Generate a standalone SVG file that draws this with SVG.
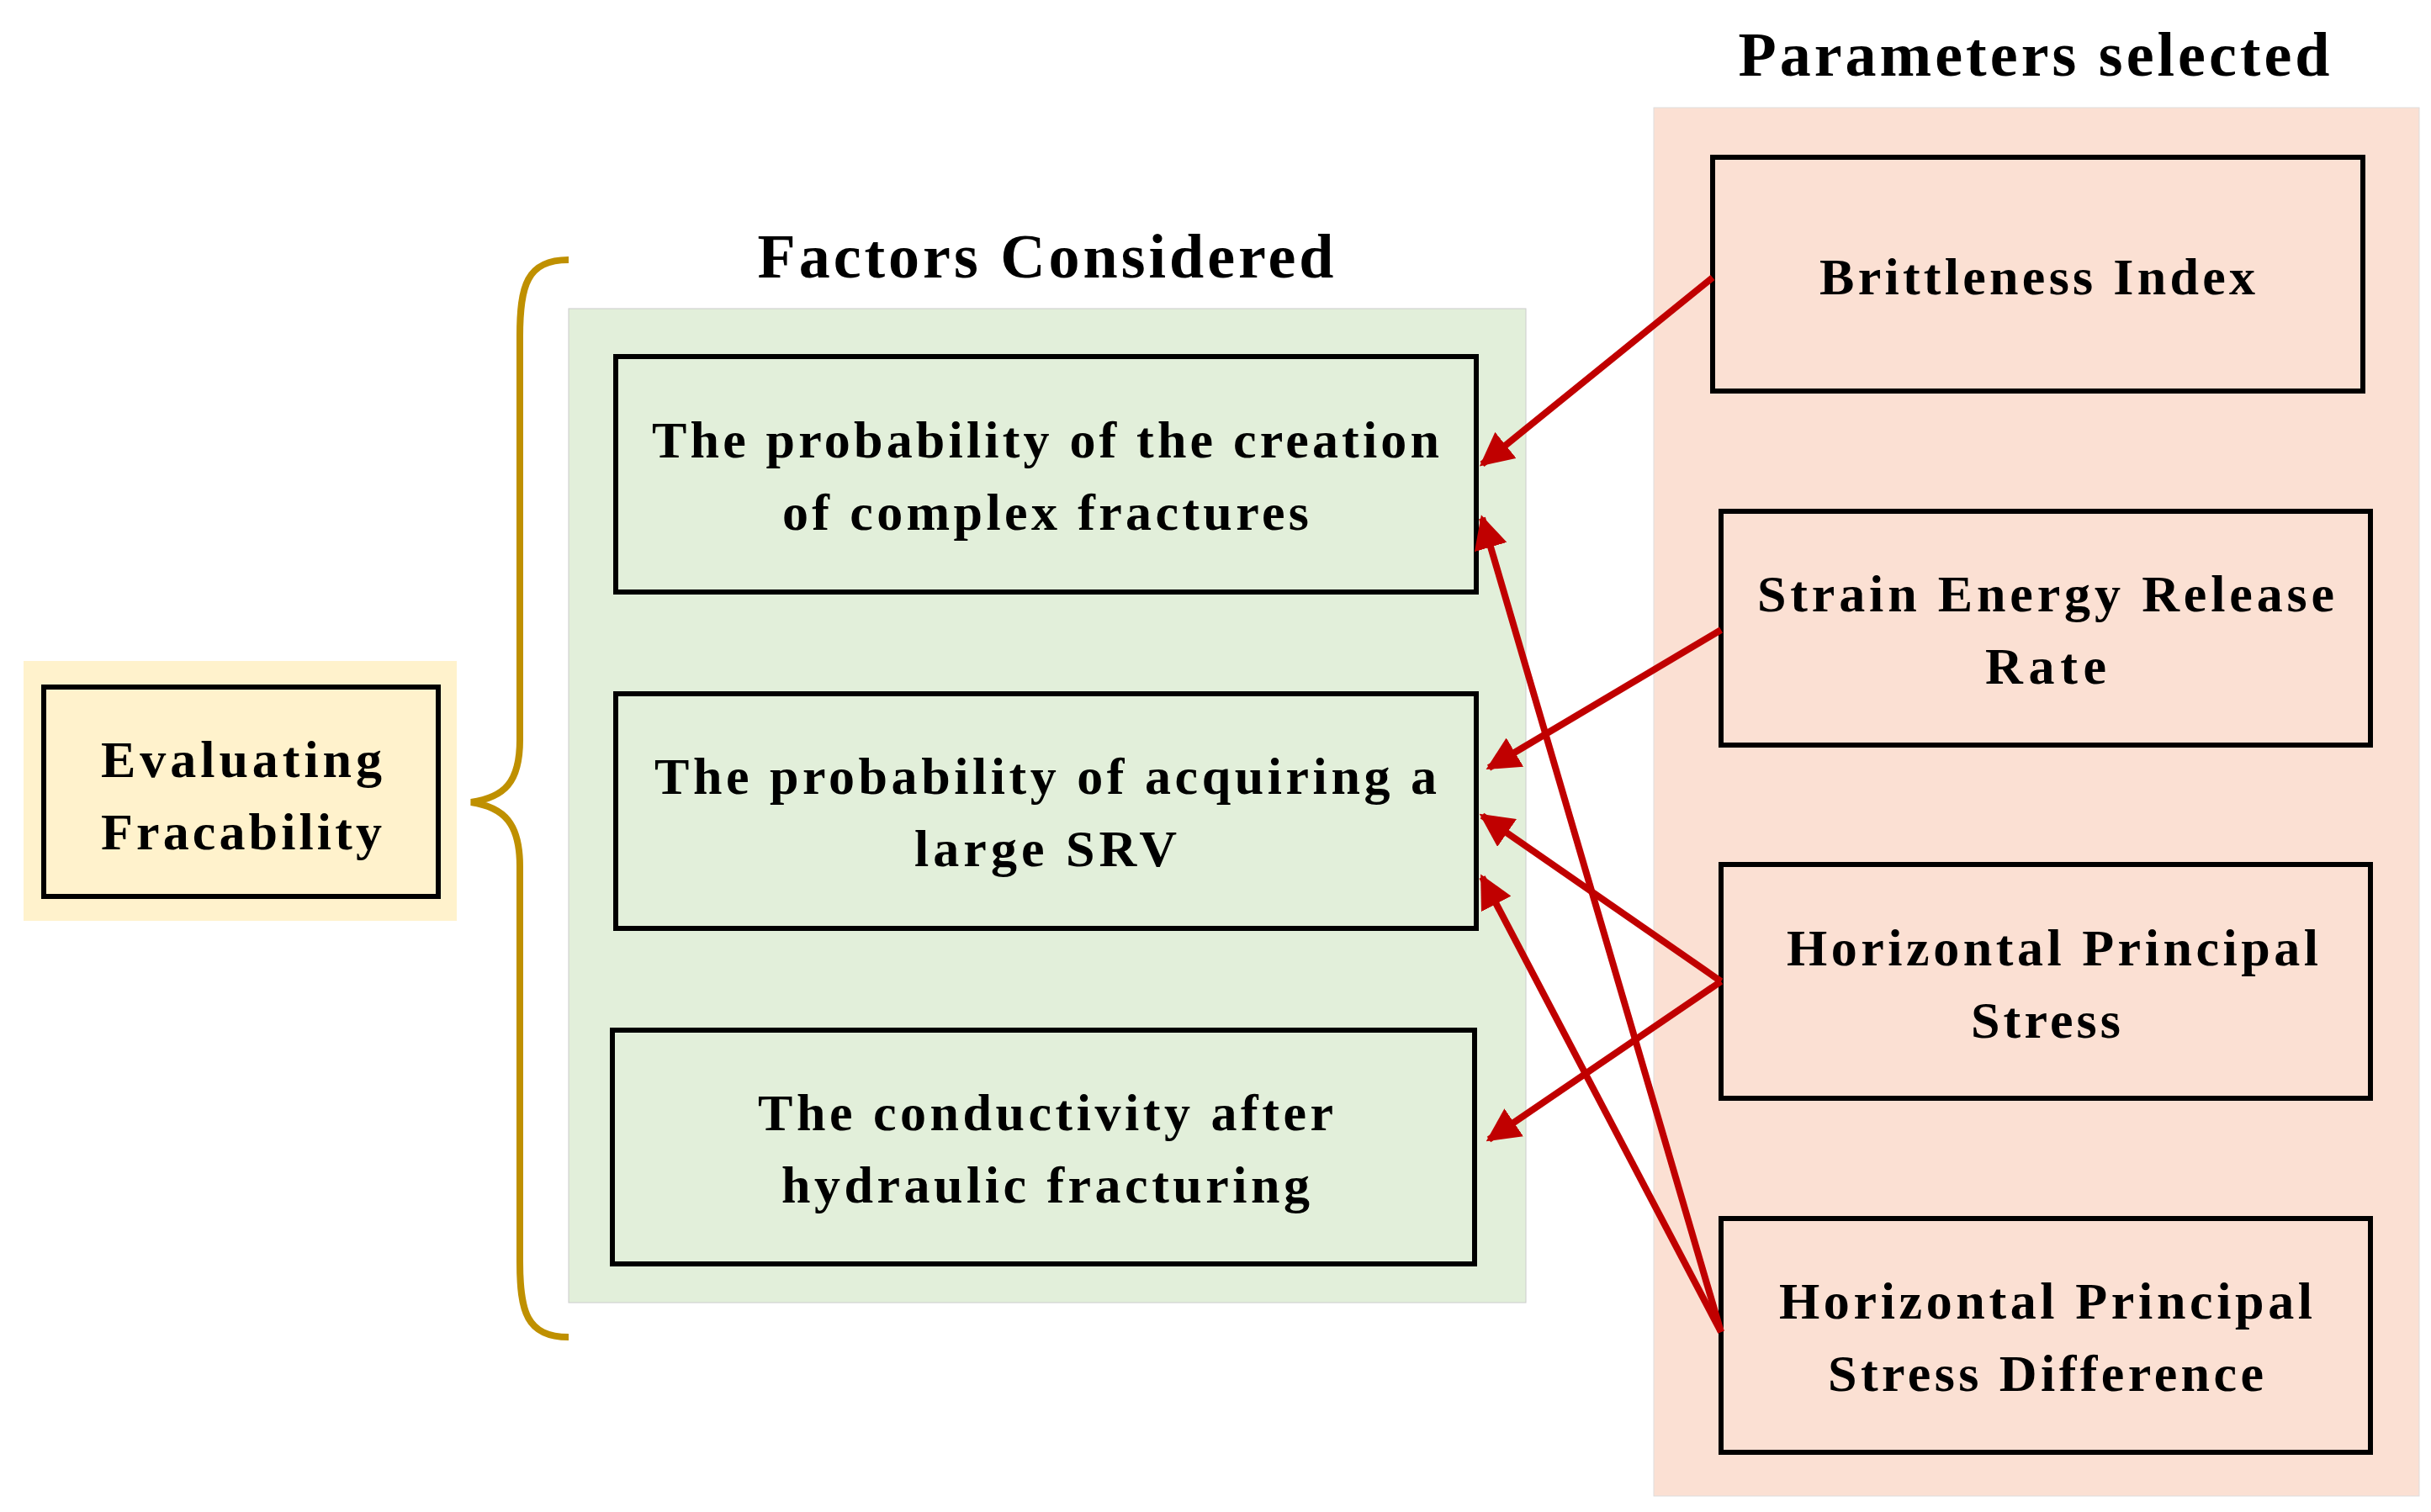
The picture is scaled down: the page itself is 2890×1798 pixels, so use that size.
<svg xmlns="http://www.w3.org/2000/svg" width="2890" height="1798" viewBox="0 0 2890 1798">
<defs>
<style>
text{font-family:"Liberation Serif","Times New Roman",serif;font-weight:bold;fill:#000;text-anchor:middle}
.t{font-size:62px}
.h{font-size:74px}
.box{stroke:#000;stroke-width:6}
.c{stroke:#C00000;stroke-width:8;fill:none}
</style>
<marker id="ah" viewBox="0 0 10 10" refX="9" refY="5" markerWidth="5" markerHeight="5" orient="auto" markerUnits="strokeWidth"><path d="M0,0L10,5L0,10z" fill="#C00000"/></marker>
</defs>
<rect width="2890" height="1798" fill="#fff"/>
<g id="evaluating">
<rect x="28" y="786" width="515" height="309" fill="#FFF2CC"/>
<rect class="box" x="52" y="817" width="469" height="249" fill="#FFF2CC"/>
<text class="t" x="287" y="924" textLength="334">Evaluating</text>
<text class="t" x="287" y="1010" textLength="334">Fracability</text>
</g>
<path id="brace" d="M676,309 C626,309 618,340 618,400 L618,880 C618,930 600,948 560,954 C600,960 618,980 618,1030 L618,1500 C618,1560 626,1590 676,1590" fill="none" stroke="#BF9000" stroke-width="8"/>
<g id="factors">
<text class="h" x="1243" y="330" textLength="685">Factors Considered</text>
<rect x="676" y="367" width="1138" height="1182" fill="#E2EFDA" stroke="#ccc" stroke-width="1"/>
</g>
<g id="f1"><rect class="box" x="732" y="424" width="1023" height="280" fill="#E2EFDA"/>
<text class="t" x="1243" y="544" textLength="936">The probability of the creation</text>
<text class="t" x="1243" y="630" textLength="626">of complex fractures</text></g>
<g id="f2"><rect class="box" x="732" y="825" width="1023" height="279" fill="#E2EFDA"/>
<text class="t" x="1243" y="944" textLength="930">The probability of acquiring a</text>
<text class="t" x="1243" y="1030" textLength="312">large SRV</text></g>
<g id="f3"><rect class="box" x="728" y="1225" width="1025" height="278" fill="#E2EFDA"/>
<text class="t" x="1243" y="1344" textLength="684">The conductivity after</text>
<text class="t" x="1243" y="1430" textLength="628">hydraulic fracturing</text></g>
<g id="params">
<rect x="1966" y="128" width="910" height="1651" fill="#FBE0D3" stroke="#ddd" stroke-width="1"/>
<text class="h" x="2418" y="90" textLength="703">Parameters selected</text>
</g>
<g id="p1"><rect class="box" x="2036" y="187" width="773" height="278" fill="#FBE0D3"/>
<text class="t" x="2422" y="350" textLength="518">Brittleness Index</text></g>
<g id="p2"><rect class="box" x="2046" y="608" width="772" height="278" fill="#FBE0D3"/>
<text class="t" x="2432" y="727" textLength="686">Strain Energy Release</text>
<text class="t" x="2432" y="813" textLength="144">Rate</text></g>
<g id="p3"><rect class="box" x="2046" y="1028" width="772" height="278" fill="#FBE0D3"/>
<text class="t" x="2440" y="1148" textLength="632">Horizontal Principal</text>
<text class="t" x="2432" y="1234" textLength="178">Stress</text></g>
<g id="p4"><rect class="box" x="2046" y="1449" width="772" height="278" fill="#FBE0D3"/>
<text class="t" x="2432" y="1568" textLength="634">Horizontal Principal</text>
<text class="t" x="2432" y="1654" textLength="518">Stress Difference</text></g>
<g id="connectors">
<line class="c" x1="2036" y1="330" x2="1762" y2="552" marker-end="url(#ah)"/>
<line class="c" x1="2046" y1="749" x2="1770" y2="913" marker-end="url(#ah)"/>
<line class="c" x1="2046" y1="1167" x2="1762" y2="970" marker-end="url(#ah)"/>
<line class="c" x1="2046" y1="1167" x2="1770" y2="1355" marker-end="url(#ah)"/>
<line class="c" x1="2046" y1="1584" x2="1762" y2="616" marker-end="url(#ah)"/>
<line class="c" x1="2046" y1="1584" x2="1762" y2="1043" marker-end="url(#ah)"/>
</g>
</svg>
